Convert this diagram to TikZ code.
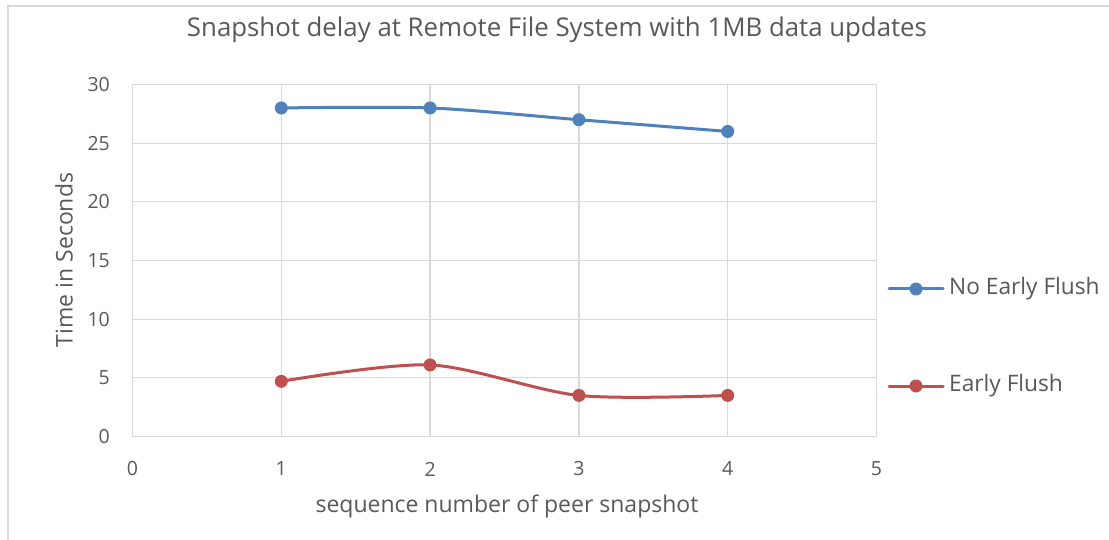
\documentclass[tikz,border=0pt]{standalone}
\usepackage{fontspec}
\setmainfont{Open Sans}
\definecolor{txt}{HTML}{595959}
\definecolor{grid}{HTML}{D9D9D9}
\definecolor{frame}{HTML}{D9D9D9}
\definecolor{sblue}{HTML}{4F81BD}
\definecolor{sred}{HTML}{C0504D}
\begin{document}
\begin{tikzpicture}[x=1pt,y=-1pt,
  gridline/.style={draw=grid,line width=1.3pt},
  ticklab/.style={text=txt,font=\fontsize{19.5}{19.5}\selectfont,inner sep=0pt},
  axtitle/.style={text=txt,font=\fontsize{23}{23}\selectfont,inner sep=0pt},
  series/.style={line width=3pt,line cap=round},
  mk/.style={circle,fill=#1,inner sep=0pt,minimum size=13pt},
  legtext/.style={text=txt,font=\fontsize{22.7}{22.7}\selectfont,inner sep=0pt,anchor=west}]
\useasboundingbox (0,0) rectangle (1109,540);
\fill[white] (0,0) rectangle (1109,540);
% outer chart frame (left and top visible)
\draw[frame,line width=1.3pt] (8,540) -- (8,6) -- (1109,6);
% grid
\foreach \i in {0,...,5} {
  \pgfmathsetmacro{\gx}{132.5+148.8*\i}
  \draw[gridline] (\gx,84.5) -- (\gx,436.5);
  \node[ticklab] (xt\i) at (\gx,469) {\i};
}
\foreach \j in {0,5,...,30} {
  \pgfmathsetmacro{\gy}{436.5-11.733*\j}
  \draw[gridline] (132.5,\gy) -- (876.5,\gy);
  \node[ticklab,anchor=east] (yt\j) at (110,\gy) {\j};
}
% title and axis titles
\node[text=txt,font=\fontsize{25.8}{25.8}\selectfont,inner sep=0pt] (title) at (557,30) {Snapshot delay at Remote File System with 1MB data updates};
\node[axtitle,rotate=90] (ylab) at (64,260) {Time in Seconds};
\node[axtitle] (xlab) at (507,506) {sequence number of peer snapshot};
% data coordinates
\def\X#1{132.5+148.8*#1}
\def\Y#1{436.5-11.733*#1}
\coordinate (b1) at ({\X{1}},{\Y{28}});
\coordinate (b2) at ({\X{2}},{\Y{28}});
\coordinate (b3) at ({\X{3}},{\Y{27}});
\coordinate (b4) at ({\X{4}},{\Y{26}});
\coordinate (r1) at ({\X{1}},{\Y{4.7}});
\coordinate (r2) at ({\X{2}},{\Y{6.1}});
\coordinate (r3) at ({\X{3}},{\Y{3.5}});
\coordinate (r4) at ({\X{4}},{\Y{3.5}});
\draw[series,sblue] plot[smooth,tension=0.5] coordinates {(b1) (b2) (b3) (b4)};
\draw[series,sred] plot[smooth,tension=0.5] coordinates {(r1) (r2) (r3) (r4)};
\foreach \p in {1,...,4} {
  \node[mk=sblue] (nb\p) at (b\p) {};
  \node[mk=sred] (nr\p) at (r\p) {};
}
% legend
\coordinate (lb0) at (889,289);
\coordinate (lb1) at (943,289);
\draw[series,sblue] (lb0) -- (lb1);
\node[mk=sblue] (lbm) at (916,289) {};
\node[legtext] (lbt) at (949,289) {No Early Flush};
\coordinate (lr0) at (889,386);
\coordinate (lr1) at (943,386);
\draw[series,sred] (lr0) -- (lr1);
\node[mk=sred] (lrm) at (916,386) {};
\node[legtext] (lrt) at (949,386) {Early Flush};
\end{tikzpicture}
\end{document}
